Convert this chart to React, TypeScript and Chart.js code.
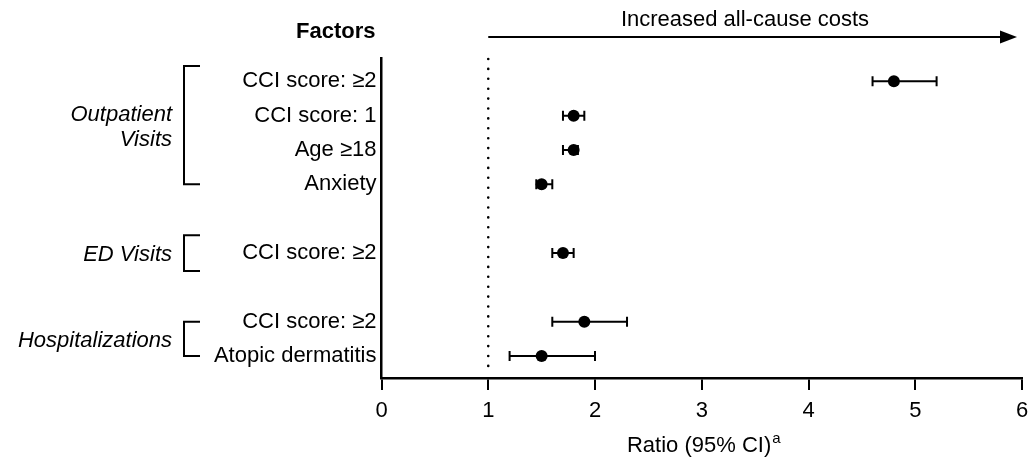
import React, { useEffect, useRef } from 'react';
import { Chart, registerables } from 'chart.js';

Chart.register(...registerables);

const FONT = "'Liberation Sans', Arial, Helvetica, sans-serif";

// ---- data ----
const rowIndex = [0, 1, 2, 3, 5, 7, 8];
const factorLabels = [
  'CCI score: ≥2',
  'CCI score: 1',
  'Age ≥18',
  'Anxiety',
  'CCI score: ≥2',
  'CCI score: ≥2',
  'Atopic dermatitis',
];
const ratios = [4.8, 1.8, 1.8, 1.5, 1.7, 1.9, 1.5];
const ciLower = [4.6, 1.7, 1.7, 1.45, 1.6, 1.6, 1.2];
const ciUpper = [5.2, 1.9, 1.84, 1.6, 1.8, 2.3, 2.0];
const groupNames = [['Outpatient', 'Visits'], ['ED Visits'], ['Hospitalizations']];
const groupSpans = [
  [-0.45, 3],
  [4.48, 5.52],
  [7, 8],
];
const xTickValues = [0, 1, 2, 3, 4, 5, 6];
const referenceValue = 1;
const headerLabel = 'Factors';
const arrowLabel = 'Increased all-cause costs';
const axisTitle = 'Ratio (95% CI)';
const axisTitleSup = 'a';

const forestPlugin = {
  id: 'forestPlot',
  beforeDatasetsDraw(chart: any) {
    const { ctx, chartArea } = chart;
    const x = chart.scales.x;
    const y = chart.scales.y;
    ctx.save();
    // dotted reference line
    const rx = x.getPixelForValue(referenceValue);
    ctx.strokeStyle = '#000';
    ctx.lineWidth = 2.6;
    ctx.lineCap = 'round';
    ctx.setLineDash([0, 9.9]);
    ctx.beginPath();
    ctx.moveTo(rx, chartArea.top + 1);
    ctx.lineTo(rx, chartArea.bottom - 5);
    ctx.stroke();
    ctx.setLineDash([]);
    ctx.lineCap = 'butt';
    // error bars
    ctx.lineWidth = 2;
    for (let i = 0; i < ratios.length; i++) {
      const py = y.getPixelForValue(rowIndex[i]);
      const x1 = x.getPixelForValue(ciLower[i]);
      const x2 = x.getPixelForValue(ciUpper[i]);
      ctx.beginPath();
      ctx.moveTo(x1, py);
      ctx.lineTo(x2, py);
      ctx.moveTo(x1, py - 5);
      ctx.lineTo(x1, py + 5);
      ctx.moveTo(x2, py - 5);
      ctx.lineTo(x2, py + 5);
      ctx.stroke();
    }
    ctx.restore();
  },
  afterDraw(chart: any) {
    const { ctx, chartArea } = chart;
    const x = chart.scales.x;
    const y = chart.scales.y;
    ctx.save();
    ctx.fillStyle = '#000';
    ctx.strokeStyle = '#000';

    // header
    ctx.font = `bold 22px ${FONT}`;
    ctx.textAlign = 'right';
    ctx.textBaseline = 'alphabetic';
    ctx.fillText(headerLabel, chartArea.left - 6, 37.5);

    // arrow
    const ax0 = x.getPixelForValue(referenceValue);
    const ax1 = chartArea.right - 5;
    const ay = 37;
    ctx.lineWidth = 2;
    ctx.beginPath();
    ctx.moveTo(ax0, ay);
    ctx.lineTo(ax1 - 14, ay);
    ctx.stroke();
    ctx.beginPath();
    ctx.moveTo(ax1, ay);
    ctx.lineTo(ax1 - 17, ay - 6.5);
    ctx.lineTo(ax1 - 17, ay + 6.5);
    ctx.closePath();
    ctx.fill();
    ctx.font = `22px ${FONT}`;
    ctx.textAlign = 'center';
    ctx.fillText(arrowLabel, 745, 25.5);

    // brackets + group labels
    ctx.lineWidth = 2;
    const bx = 184;
    const bx2 = 200;
    ctx.font = `italic 22px ${FONT}`;
    ctx.textAlign = 'right';
    groupSpans.forEach((span, gi) => {
      const t = y.getPixelForValue(span[0]);
      const b = y.getPixelForValue(span[1]);
      ctx.beginPath();
      ctx.moveTo(bx2, t);
      ctx.lineTo(bx, t);
      ctx.lineTo(bx, b);
      ctx.lineTo(bx2, b);
      ctx.stroke();
      const lines = groupNames[gi];
      const mid = (t + b) / 2;
      const lh = 25;
      lines.forEach((ln, li) => {
        const cy = mid + (li - (lines.length - 1) / 2) * lh;
        ctx.fillText(ln, 172, cy + 8);
      });
    });

    // axis title with superscript
    ctx.textAlign = 'left';
    ctx.font = `22px ${FONT}`;
    const w1 = ctx.measureText(axisTitle).width;
    ctx.font = `15px ${FONT}`;
    const w2 = ctx.measureText(axisTitleSup).width;
    const cx = (chartArea.left + chartArea.right) / 2 + 2;
    const sx = cx - (w1 + w2 + 1) / 2;
    ctx.font = `22px ${FONT}`;
    ctx.fillText(axisTitle, sx, 452);
    ctx.font = `15px ${FONT}`;
    ctx.fillText(axisTitleSup, sx + w1 + 1, 443);
    ctx.restore();
  },
};

export default function App() {
  const canvasRef = useRef<HTMLCanvasElement | null>(null);

  useEffect(() => {
    if (!canvasRef.current) return;
    const chart = new Chart(canvasRef.current, {
      type: 'scatter',
      data: {
        datasets: [
          {
            data: ratios.map((r, i) => ({ x: r, y: rowIndex[i] })),
            pointRadius: 6,
            pointHoverRadius: 6,
            pointBackgroundColor: '#000',
            pointBorderWidth: 0,
            showLine: false,
          },
        ],
      },
      options: {
        animation: false,
        responsive: false,
        events: [],
        layout: { padding: { top: 58, right: 8, left: 0, bottom: 0 } },
        plugins: { legend: { display: false }, tooltip: { enabled: false } },
        scales: {
          x: {
            type: 'linear',
            min: 0,
            max: 6,
            afterBuildTicks: (s: any) => {
              s.ticks = xTickValues.map((v) => ({ value: v }));
            },
            ticks: {
              font: { family: FONT, size: 22 },
              color: '#000',
              padding: 8,
              autoSkip: false,
              maxRotation: 0,
            },
            grid: {
              display: true,
              drawOnChartArea: false,
              drawTicks: true,
              tickLength: 12,
              color: '#000',
              lineWidth: 2,
            },
            border: { display: true, color: '#000', width: 2.5 },
            afterFit: (s: any) => {
              s.height = 79;
              s.paddingLeft = 0;
              s.paddingRight = 0;
            },
          },
          y: {
            type: 'linear',
            reverse: true,
            min: -0.68,
            max: 8.64,
            afterBuildTicks: (s: any) => {
              s.ticks = rowIndex.map((v) => ({ value: v }));
            },
            ticks: {
              font: { family: FONT, size: 22 },
              color: '#000',
              padding: 5,
              autoSkip: false,
              callback: (v: any) => {
                const k = rowIndex.indexOf(Number(v));
                return k >= 0 ? factorLabels[k] : '';
              },
            },
            grid: { display: true, drawOnChartArea: false, drawTicks: false, color: 'rgba(0,0,0,0)' },
            border: { display: true, color: '#000', width: 2.5 },
            afterFit: (s: any) => {
              s.width = 381.5;
              s.paddingTop = 0;
              s.paddingBottom = 0;
            },
          },
        },
      },
      plugins: [forestPlugin],
    } as any);
    return () => chart.destroy();
  }, []);

  return (
    <div style={{ position: 'fixed', left: 0, top: 0, width: 1030, height: 457, background: '#fff' }}>
      <canvas ref={canvasRef} width={1030} height={457} style={{ display: 'block' }} />
    </div>
  );
}
